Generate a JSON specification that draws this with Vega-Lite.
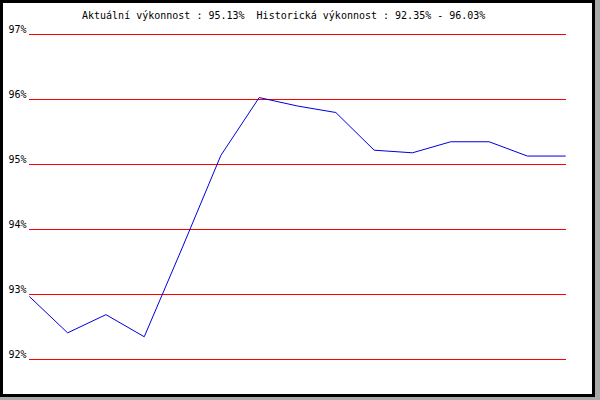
{
  "$schema": "https://vega.github.io/schema/vega-lite/v6.json",
  "width": 592,
  "height": 394,
  "autosize": {"type": "none"},
  "padding": {"left": 1.5, "top": 1.5, "right": 6.5, "bottom": 4.5},
  "background": "#aaaaaa",
  "config": {
    "view": {"fill": "white", "stroke": "black", "strokeWidth": 3},
    "font": "DejaVu Sans Mono"
  },
  "title": {
    "text": "Aktuální výkonnost : 95.13%\u00a0 Historická výkonnost : 92.35% - 96.03%",
    "anchor": "start",
    "orient": "top",
    "frame": "group",
    "offset": -27,
    "baseline": "alphabetic",
    "dx": 80.5,
    "fontSize": 10,
    "fontWeight": "normal",
    "font": "DejaVu Sans Mono",
    "color": "black"
  },
  "datasets": {
    "perf": [
      {"i": 0, "v": 92.97},
      {"i": 1, "v": 92.41},
      {"i": 2, "v": 92.69},
      {"i": 3, "v": 92.35},
      {"i": 4, "v": 93.73},
      {"i": 5, "v": 95.14},
      {"i": 6, "v": 96.03},
      {"i": 7, "v": 95.90},
      {"i": 8, "v": 95.80},
      {"i": 9, "v": 95.22},
      {"i": 10, "v": 95.18},
      {"i": 11, "v": 95.35},
      {"i": 12, "v": 95.35},
      {"i": 13, "v": 95.13},
      {"i": 14, "v": 95.13}
    ],
    "grid": [
      {"v": 92}, {"v": 93}, {"v": 94}, {"v": 95}, {"v": 96}, {"v": 97}
    ]
  },
  "layer": [
    {
      "data": {"name": "grid"},
      "mark": {"type": "rule", "color": "#ff0000", "strokeWidth": 1},
      "encoding": {
        "y": {
          "field": "v",
          "type": "quantitative",
          "scale": {"domain": [91.4462, 97.5077], "nice": false, "zero": false},
          "axis": {
            "values": [92, 93, 94, 95, 96, 97],
            "labelExpr": "datum.value + '%'",
            "domain": false,
            "ticks": false,
            "grid": false,
            "labelPadding": 0,
            "offset": -24.5,
            "labelFontSize": 10,
            "labelFont": "DejaVu Sans Mono",
            "labelColor": "black",
            "labelBaseline": "alphabetic",
            "labelAlign": "right",
            "labelOffset": -2,
            "labelFlush": false,
            "labelOverlap": false,
            "title": null
          }
        },
        "x": {
          "datum": -0.008,
          "type": "quantitative",
          "scale": {"domain": [-0.7256, 14.7255], "nice": false, "zero": false},
          "axis": null
        },
        "x2": {"datum": 14.008}
      }
    },
    {
      "data": {"name": "perf"},
      "mark": {"type": "line", "color": "#0000dd", "strokeWidth": 1},
      "encoding": {
        "x": {"field": "i", "type": "quantitative"},
        "y": {"field": "v", "type": "quantitative"}
      }
    }
  ]
}
